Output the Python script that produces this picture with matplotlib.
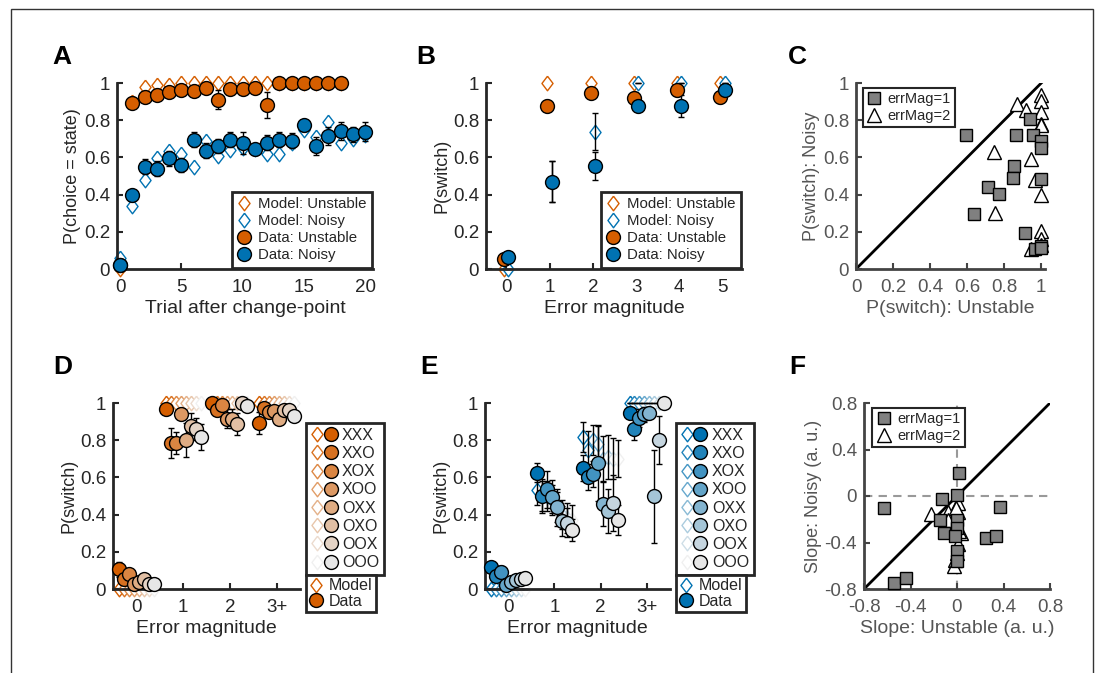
import numpy as np
import matplotlib.pyplot as plt
from matplotlib.legend_handler import HandlerTuple
from matplotlib.lines import Line2D
from matplotlib.patches import Rectangle
import matplotlib.colors as mcolors

plt.rcParams['font.family'] = ['Liberation Sans', 'DejaVu Sans']

ORANGE = '#D55E00'
BLUE = '#0072B2'
TXT = '#262626'
GREY_TXT = '#555555'

# --- Panel A: P(choice = state) vs trial after change-point ---
a_trials = list(range(21))
a_trials_unst = list(range(19))
a_model_unst = [0.0, 0.90, 0.98, 0.99, 0.99, 1.0, 1.0, 1.0, 1.0, 1.0, 1.0, 1.0, 1.0, 1.0, 1.0, 1.0, 1.0, 1.0, 1.0]
a_data_unst = [0.02, 0.893, 0.925, 0.938, 0.952, 0.964, 0.957, 0.975, 0.911, 0.966, 0.966, 0.973, 0.88, 1.0, 1.0, 1.0, 1.0, 1.0, 1.0]
a_err_unst = [0.01, 0.03, 0.02, 0.02, 0.02, 0.02, 0.02, 0.01, 0.05, 0.02, 0.02, 0.02, 0.07, 0.0, 0.0, 0.0, 0.0, 0.0, 0.0]
a_model_noisy = [0.06, 0.34, 0.48, 0.595, 0.636, 0.62, 0.55, 0.69, 0.61, 0.64, 0.65, 0.645, 0.62, 0.62, 0.68, 0.75, 0.71, 0.79, 0.68, 0.70, 0.72]
a_data_noisy = [0.023, 0.396, 0.55, 0.54, 0.595, 0.559, 0.696, 0.636, 0.661, 0.696, 0.679, 0.643, 0.679, 0.696, 0.689, 0.773, 0.661, 0.714, 0.743, 0.725, 0.738]
a_err_noisy = [0.01, 0.03, 0.04, 0.04, 0.04, 0.04, 0.04, 0.04, 0.04, 0.04, 0.06, 0.03, 0.04, 0.04, 0.04, 0.03, 0.05, 0.05, 0.05, 0.04, 0.05]

# --- Panel B: P(switch) vs error magnitude ---
b_err_mag = [0, 1, 2, 3, 4, 5]
b_model_unst = [0.0, 1.0, 1.0, 1.0, 1.0, 1.0]
b_model_noisy = [0.0, 0.47, 0.7375, 1.0, 1.0, 1.0]
b_model_noisy_err = [0.0, 0.11, 0.10, 0.0, 0.0, 0.0]
b_data_unst = [0.054, 0.877, 0.946, 0.92, 0.96, 0.925]
b_data_unst_err = [0.01, 0.03, 0.01, 0.03, 0.03, 0.03]
b_data_noisy = [0.064, 0.47, 0.555, 0.877, 0.877, 0.96]
b_data_noisy_err = [0.01, 0.11, 0.075, 0.03, 0.06, 0.03]

# --- Panel C: per-subject P(switch) ---
c_sq_x = [0.593, 0.638, 0.714, 0.77, 0.854, 0.845, 0.861, 0.9375, 0.955, 1.0, 1.0, 1.0, 0.91, 0.968, 1.0, 1.0]
c_sq_y = [0.722, 0.296, 0.44, 0.404, 0.553, 0.487, 0.722, 0.804, 0.722, 0.69, 0.65, 0.485, 0.194, 0.108, 0.126, 0.114]
c_tri_x = [0.87, 0.92, 0.745, 0.946, 0.752, 0.964, 1.0, 1.0, 1.0, 1.0, 1.0, 1.0, 1.0, 1.0, 1.0, 0.943]
c_tri_y = [0.889, 0.853, 0.628, 0.592, 0.302, 0.476, 0.934, 0.905, 0.843, 0.78, 0.772, 0.398, 0.206, 0.16, 0.13, 0.108]

# --- Panels D/E: history conditions ---
hist_labels = ['XXX', 'XXO', 'XOX', 'XOO', 'OXX', 'OXO', 'OOX', 'OOO']
mag_labels = ['0', '1', '2', '3+']

d_data = [
    [0.107, 0.055, 0.08, 0.029, 0.0375, 0.054, 0.029, 0.029],
    [0.97, 0.786, 0.786, 0.94, 0.80, 0.875, 0.86, 0.818],
    [1.0, 0.96, 0.9875, 0.916, 0.916, 0.886, 1.0, 0.982],
    [0.893, 0.973, 0.952, 0.957, 0.916, 0.96, 0.96, 0.929],
]
d_err = [
    [0.04, 0.02, 0.03, 0.02, 0.02, 0.02, 0.02, 0.02],
    [0.01, 0.08, 0.06, 0.02, 0.09, 0.07, 0.06, 0.07],
    [0.0, 0.02, 0.01, 0.05, 0.05, 0.06, 0.0, 0.01],
    [0.06, 0.02, 0.02, 0.02, 0.03, 0.02, 0.02, 0.02],
]
d_model = [
    [0.0] * 8,
    [1.0] * 8,
    [1.0] * 8,
    [1.0] * 8,
]

e_data = [
    [0.116, 0.068, 0.091, 0.02, 0.036, 0.046, 0.054, 0.059],
    [0.625, 0.50, 0.536, 0.496, 0.44, 0.366, 0.357, 0.318],
    [0.648, 0.604, 0.618, 0.675, 0.457, 0.42, 0.464, 0.371],
    [0.946, 0.8625, 0.92, 0.94, 0.946, 0.50, 0.80, 1.0],
]
e_err = [
    [0.02, 0.02, 0.03, 0.01, 0.02, 0.02, 0.03, 0.03],
    [0.05, 0.09, 0.10, 0.09, 0.10, 0.08, 0.08, 0.06],
    [0.07, 0.07, 0.07, 0.20, 0.12, 0.12, 0.15, 0.08],
    [0.02, 0.06, 0.05, 0.04, 0.02, 0.25, 0.13, 0.0],
]
e_model = [
    [0.0] * 8,
    [0.53, 0.50, 0.50, 0.48, 0.44, 0.40, 0.38, 0.37],
    [0.818, 0.75, 0.80, 0.78, 0.70, 0.71, 0.70, 0.70],
    [1.0] * 8,
]
e_model_err = [
    [0.0] * 8,
    [0.08, 0.08, 0.08, 0.08, 0.08, 0.08, 0.08, 0.08],
    [0.08, 0.10, 0.08, 0.10, 0.12, 0.12, 0.11, 0.10],
    [0.0] * 8,
]

# --- Panel F: per-subject slopes ---
f_sq_x = [-0.625, -0.539, -0.439, -0.126, -0.146, -0.115, -0.003, 0.017, 0.003, -0.003, -0.014, 0.003, 0.003, 0.247, 0.333, 0.373]
f_sq_y = [-0.106, -0.749, -0.706, -0.029, -0.206, -0.314, 0.009, 0.2, -0.206, -0.277, -0.343, -0.471, -0.563, -0.363, -0.343, -0.097]
f_tri_x = [-0.224, -0.075, -0.075, 0.006, 0.006, 0.034, 0.006, -0.003, -0.017, -0.026, 0.02, -0.01]
f_tri_y = [-0.157, -0.134, -0.206, -0.063, -0.134, -0.32, -0.411, -0.49, -0.549, -0.606, -0.30, -0.10]

TICK_FS = 13.5
XLAB_FS = 14
YLAB_FS = 13

# MATLAB-like diamond: wider than matplotlib's thin 'd'
DIAMOND = [(0, 1), (0.76, 0), (0, -1), (-0.76, 0), (0, 1)]


def style_axis(ax, color=TXT, spine_color=TXT):
    for s in ['top', 'right']:
        ax.spines[s].set_visible(False)
    for s in ['left', 'bottom']:
        ax.spines[s].set_linewidth(2)
        ax.spines[s].set_color(spine_color)
    ax.tick_params(direction='in', length=4, width=1.5, labelsize=TICK_FS,
                   colors=spine_color, labelcolor=color)
    ax.tick_params(axis='x', pad=7)
    ax.tick_params(axis='y', pad=5)
    ax.xaxis.label.set_color(color)
    ax.yaxis.label.set_color(color)


def frame_legend(leg, lw=2):
    f = leg.get_frame()
    f.set_linewidth(lw)
    f.set_edgecolor(TXT)
    f.set_facecolor('white')
    f.set_alpha(1)


def shades(base, n=8, light='#E6E6E6'):
    b = np.array(mcolors.to_rgb(base))
    l = np.array(mcolors.to_rgb(light))
    return [tuple(b + (l - b) * i / (n - 1)) for i in range(n)]


fig = plt.figure(figsize=(10.99, 6.73), dpi=100)

# figure border
fig.patches.append(Rectangle((11 / 1099, -0.02), (1093 - 11) / 1099, 1.02 - 9 / 673,
                             transform=fig.transFigure, fill=False,
                             edgecolor='#333333', linewidth=1))

top_y, h = 1 - 269 / 673, 186 / 673
bot_y = 1 - 589 / 673
axA = fig.add_axes([117 / 1099, top_y, 256 / 1099, h])
axB = fig.add_axes([486 / 1099, top_y, 256 / 1099, h])
axC = fig.add_axes([856 / 1099, top_y, 189 / 1099, h])
axD = fig.add_axes([113 / 1099, bot_y, 187 / 1099, h])
axE = fig.add_axes([485 / 1099, bot_y, 185 / 1099, h])
axF = fig.add_axes([864 / 1099, bot_y, 186 / 1099, h])

ms_c = 10
ms_d = 10.5
eb = dict(fmt='none', ecolor='black', elinewidth=1, capsize=2, capthick=1, clip_on=False, zorder=2)
leg_kw = dict(fancybox=False, labelcolor=TXT)

# ---- A ----
ax = axA
ax.errorbar(a_trials_unst, a_data_unst, yerr=a_err_unst, **eb)
ax.errorbar(a_trials, a_data_noisy, yerr=a_err_noisy, **eb)
ax.plot(a_trials_unst, a_model_unst, ls='none', marker=DIAMOND, ms=ms_d, mfc='white', mec=ORANGE, mew=1, clip_on=False, zorder=1, label='Model: Unstable')
ax.plot(a_trials, a_model_noisy, ls='none', marker=DIAMOND, ms=ms_d, mfc='white', mec=BLUE, mew=1, clip_on=False, zorder=1, label='Model: Noisy')
ax.plot(a_trials_unst, a_data_unst, 'o', ms=ms_c, mfc=ORANGE, mec='black', mew=1, clip_on=False, zorder=3, label='Data: Unstable')
ax.plot(a_trials, a_data_noisy, 'o', ms=ms_c, mfc=BLUE, mec='black', mew=1, clip_on=False, zorder=3, label='Data: Noisy')
ax.set_xlim(-0.25, 20.65)
ax.set_ylim(0, 1)
ax.set_xticks([0, 5, 10, 15, 20])
ax.set_yticks([0, 0.2, 0.4, 0.6, 0.8, 1])
ax.set_yticklabels(['0', '0.2', '0.4', '0.6', '0.8', '1'])
ax.set_xlabel('Trial after change-point', fontsize=XLAB_FS, labelpad=3)
ax.set_ylabel('P(choice = state)', fontsize=YLAB_FS, labelpad=2)
style_axis(ax)
leg = ax.legend(loc='lower right', fontsize=10.8, handlelength=1.0,
                handletextpad=0.4, labelspacing=0.2, borderpad=0.35, borderaxespad=0.1, **leg_kw)
leg.set_zorder(10)
frame_legend(leg)

# ---- B ----
ax = axB
bx = np.array(b_err_mag)
ax.errorbar(bx + 0.05, b_model_noisy, yerr=b_model_noisy_err, **eb)
ax.errorbar(bx - 0.05, b_data_unst, yerr=b_data_unst_err, **eb)
ax.errorbar(bx + 0.05, b_data_noisy, yerr=b_data_noisy_err, **eb)
ax.plot(bx - 0.05, b_model_unst, ls='none', marker=DIAMOND, ms=ms_d, mfc='white', mec=ORANGE, mew=1, clip_on=False, zorder=1, label='Model: Unstable')
ax.plot(bx + 0.05, b_model_noisy, ls='none', marker=DIAMOND, ms=ms_d, mfc='white', mec=BLUE, mew=1, clip_on=False, zorder=1, label='Model: Noisy')
ax.plot(bx - 0.05, b_data_unst, 'o', ms=ms_c, mfc=ORANGE, mec='black', mew=1, clip_on=False, zorder=3, label='Data: Unstable')
ax.plot(bx + 0.05, b_data_noisy, 'o', ms=ms_c, mfc=BLUE, mec='black', mew=1, clip_on=False, zorder=3, label='Data: Noisy')
ax.set_xlim(-0.47, 5.45)
ax.set_ylim(0, 1)
ax.set_xticks(b_err_mag)
ax.set_yticks([0, 0.2, 0.4, 0.6, 0.8, 1])
ax.set_yticklabels(['0', '0.2', '0.4', '0.6', '0.8', '1'])
ax.set_xlabel('Error magnitude', fontsize=XLAB_FS, labelpad=3)
ax.set_ylabel('P(switch)', fontsize=YLAB_FS, labelpad=2)
style_axis(ax)
leg = ax.legend(loc='lower right', fontsize=10.8, handlelength=1.0,
                handletextpad=0.4, labelspacing=0.2, borderpad=0.35, borderaxespad=0.1, **leg_kw)
leg.set_zorder(10)
frame_legend(leg)

# ---- C ----
ax = axC
ax.plot([0, 1], [0, 1], color='black', lw=2, zorder=1)
ax.plot(c_sq_x, c_sq_y, 's', ms=8, mfc='#808080', mec='black', mew=1, clip_on=False, zorder=3, label='errMag=1')
ax.plot(c_tri_x, c_tri_y, '^', ms=10, mfc='white', mec='black', mew=1, clip_on=False, zorder=2, label='errMag=2')
ax.set_xlim(0, 1.02)
ax.set_ylim(0, 1)
ticks = [0, 0.2, 0.4, 0.6, 0.8, 1]
tl = ['0', '0.2', '0.4', '0.6', '0.8', '1']
ax.set_xticks(ticks)
ax.set_xticklabels(tl)
ax.set_yticks(ticks)
ax.set_yticklabels(tl)
ax.set_xlabel('P(switch): Unstable', fontsize=XLAB_FS, labelpad=3)
ax.set_ylabel('P(switch): Noisy', fontsize=YLAB_FS, labelpad=2)
style_axis(ax, color=GREY_TXT, spine_color='#444444')
leg = ax.legend(loc='upper left', fontsize=10.5, handlelength=1.0,
                handletextpad=0.4, labelspacing=0.2, borderpad=0.3, borderaxespad=0.2,
                bbox_to_anchor=(0.02, 0.99), **leg_kw)
frame_legend(leg, lw=1.5)


# ---- D / E ----
def history_panel(ax, data, err, model, model_err, base):
    cols = shades(base)
    mcols = shades(base, light='#F0F0F0')
    offs = np.linspace(-0.375, 0.375, 8)
    gx = np.arange(len(mag_labels))
    for k in range(8):
        xs = gx + offs[k]
        ys = [data[g][k] for g in range(len(gx))]
        es = [err[g][k] for g in range(len(gx))]
        mys = [model[g][k] for g in range(len(gx))]
        if model_err is not None:
            mes = [model_err[g][k] for g in range(len(gx))]
            ax.errorbar(xs, mys, yerr=mes, **eb)
        ax.errorbar(xs, ys, yerr=es, **eb)
        ax.plot(xs, mys, ls='none', marker=DIAMOND, ms=ms_d, mfc='white', mec=mcols[k], mew=1, clip_on=False, zorder=1 + k * 0.01)
        ax.plot(xs, ys, 'o', ms=ms_c, mfc=cols[k], mec='black', mew=1, clip_on=False, zorder=3 + k * 0.01)
    ax.set_xlim(-0.5, 3.5)
    ax.set_ylim(0, 1)
    ax.set_xticks(gx)
    ax.set_xticklabels(mag_labels)
    ax.set_yticks([0, 0.2, 0.4, 0.6, 0.8, 1])
    ax.set_yticklabels(['0', '0.2', '0.4', '0.6', '0.8', '1'])
    ax.set_xlabel('Error magnitude', fontsize=XLAB_FS, labelpad=3)
    ax.set_ylabel('P(switch)', fontsize=YLAB_FS, labelpad=2)
    style_axis(ax)
    handles = []
    for k in range(8):
        hd = Line2D([], [], ls='none', marker=DIAMOND, ms=ms_d, mfc='white', mec=mcols[k], mew=1)
        hc = Line2D([], [], ls='none', marker='o', ms=ms_c, mfc=cols[k], mec='black', mew=1)
        handles.append((hd, hc))
    leg1 = ax.legend(handles, hist_labels, loc='upper left', bbox_to_anchor=(1.032, 0.892),
                     borderaxespad=0, fontsize=11.5,
                     handler_map={tuple: HandlerTuple(ndivide=None, pad=0.0)},
                     handlelength=1.65, handletextpad=0.3, labelspacing=0.2, borderpad=0.3,
                     **leg_kw)
    frame_legend(leg1)
    ax.add_artist(leg1)
    hm = Line2D([], [], ls='none', marker=DIAMOND, ms=ms_d, mfc='white', mec=base, mew=1)
    hdt = Line2D([], [], ls='none', marker='o', ms=ms_c, mfc=base, mec='black', mew=1)
    leg2 = ax.legend([hm, hdt], ['Model', 'Data'], loc='upper left', bbox_to_anchor=(1.032, 0.075),
                     borderaxespad=0, fontsize=11.5, handlelength=0.9,
                     handletextpad=0.35, labelspacing=0.05, borderpad=0.2, **leg_kw)
    frame_legend(leg2)


history_panel(axD, d_data, d_err, d_model, None, ORANGE)
history_panel(axE, e_data, e_err, e_model, e_model_err, BLUE)

# ---- F ----
ax = axF
ax.axhline(0, color='#999999', lw=1.5, ls=(0, (4, 3)), zorder=0)
ax.axvline(0, color='#999999', lw=1.5, ls=(0, (4, 3)), zorder=0)
ax.plot([-0.8, 0.8], [-0.8, 0.8], color='black', lw=2, zorder=1)
ax.plot(f_sq_x, f_sq_y, 's', ms=8, mfc='#808080', mec='black', mew=1, clip_on=False, zorder=3, label='errMag=1')
ax.plot(f_tri_x, f_tri_y, '^', ms=10, mfc='white', mec='black', mew=1, clip_on=False, zorder=2, label='errMag=2')
ax.set_xlim(-0.8, 0.8)
ax.set_ylim(-0.8, 0.8)
fticks = [-0.8, -0.4, 0, 0.4, 0.8]
ftl = ['-0.8', '-0.4', '0', '0.4', '0.8']
ax.set_xticks(fticks)
ax.set_xticklabels(ftl)
ax.set_yticks(fticks)
ax.set_yticklabels(ftl)
ax.set_xlabel('Slope: Unstable (a. u.)', fontsize=XLAB_FS, labelpad=3)
ax.set_ylabel('Slope: Noisy (a. u.)', fontsize=YLAB_FS, labelpad=2)
style_axis(ax, color=GREY_TXT, spine_color='#444444')
leg = ax.legend(loc='upper left', fontsize=10.5, handlelength=1.0,
                handletextpad=0.4, labelspacing=0.2, borderpad=0.3, borderaxespad=0.2,
                bbox_to_anchor=(0.03, 0.99), **leg_kw)
frame_legend(leg, lw=1.5)

# panel letters
for lbl, px, py in [('A', 62, 57), ('B', 426, 57), ('C', 797, 57),
                    ('D', 63, 367), ('E', 429, 367), ('F', 797, 367)]:
    fig.text(px / 1099, 1 - py / 673, lbl, fontsize=19, fontweight='bold',
             ha='center', va='center', color='black')

fig.savefig('out.png', dpi=100)
